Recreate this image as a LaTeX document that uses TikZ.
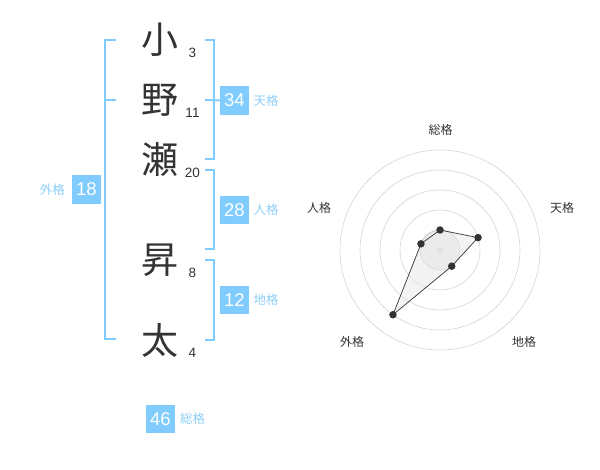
\documentclass[tikz,border=0pt]{standalone}
\usepackage{fontspec}
\setmainfont{Liberation Sans}
\newfontfamily\jp{Noto Sans CJK JP}
\usetikzlibrary{positioning}
\definecolor{Sky}{HTML}{80CCFF}
\definecolor{SkyText}{HTML}{8CCFF7}
\definecolor{Ink}{HTML}{333333}
\definecolor{Ring}{HTML}{D4D4D4}
\definecolor{Core}{HTML}{EBEBEB}
\tikzset{kanji/.style={text=Ink,inner sep=0pt,font=\jp\fontsize{37}{37}\selectfont},strokes/.style={text=Ink,inner sep=0pt,font=\fontsize{13.5}{14}\selectfont},score/.style={fill=Sky,text=white,minimum width=28.5pt,minimum height=28.5pt,inner sep=0pt,font=\fontsize{18.5}{19}\selectfont},kaku/.style={text=SkyText,inner sep=0pt,font=\jp\fontsize{12.5}{13}\selectfont},bracket/.style={draw=Sky,line width=2pt},axis/.style={text=Ink,inner sep=0pt,font=\jp\fontsize{12}{12}\selectfont},ring/.style={draw=Ring,line width=.6pt},dot/.style={circle,fill=Ink,minimum size=7.5pt,inner sep=0pt}}
\begin{document}
\begin{tikzpicture}[x=1pt,y=-1pt]
      \useasboundingbox(0,0)rectangle(600,470);
      % name, strokes
      \foreach \ch/\y/\n/\id in {小/40/3/a,野/100/11/b,瀬/160/20/c,昇/260/8/d,太/340/4/e}{
        \node[kanji](k\id)at(160,\y){\ch};\node[strokes](n\id)at(192.5,\y+13){\n};}
      % brackets and scores
      \draw[bracket](116,40)-|(105,339)--(116,339);\draw[bracket](105,100)--(116,100);
      \node[score](gai)at(86.5,189.5){18};\node[kaku,left=7pt of gai](gail){外格};
      \draw[bracket](205,40)-|(214,159)--(205,159);
      \node[score](ten)at(234.5,100.5){34};\node[kaku,right=4.5pt of ten](tenl){天格};
      \draw[bracket](205,100)--(ten.west);
      \draw[bracket](205,170)-|(214,249)--(205,249);
      \node[score](jin)at(234.5,210){28};\node[kaku,right=4.5pt of jin](jinl){人格};
      \draw[bracket](205,260)-|(214,340)--(205,340);
      \node[score](chi)at(234.5,300){12};\node[kaku,right=4.5pt of chi](chil){地格};
      \node[score](sou)at(160.5,419){46};\node[kaku,right=5pt of sou](soul){総格};
      % radar
      \coordinate(c)at(440,250);
      \foreach \r in {40,60,80,100}\draw[ring](c)circle(\r);
      \draw[ring,draw=Ring!90!black,fill=Core](c)circle(20);
      \fill[Ring](c)circle(3.2);
      \node[axis](a1)at(440.5,130){総格};\node[axis](a2)at(562,208){天格};\node[axis](a3)at(524,342){地格};
      \node[axis](a4)at(352,342){外格};\node[axis](a5)at(319,208){人格};
      \foreach \a/\r/\id in {-90/20/1,-18/40/2,54/20/3,126/80/4,198/20/5}\coordinate(p\id)at([shift={(\a:\r)}]c);
      \draw[Ink,line width=.7pt,fill=Core,fill opacity=.6](p1)--(p2)--(p3)--(p4)--(p5)--cycle;
      \foreach \id in {1,...,5}\node[dot](d\id)at(p\id){};
    \end{tikzpicture}
\end{document}
